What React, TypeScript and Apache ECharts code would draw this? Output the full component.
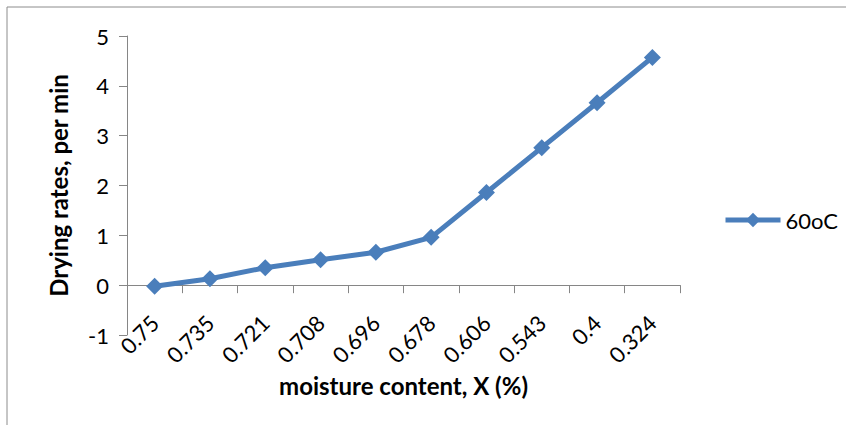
import React, { useEffect, useRef } from "react";
import * as echarts from "echarts";

const categories = ["0.75", "0.735", "0.721", "0.708", "0.696", "0.678", "0.606", "0.543", "0.4", "0.324"];
const dryingRates = [-0.02, 0.13, 0.35, 0.51, 0.66, 0.96, 1.86, 2.76, 3.66, 4.57];
const seriesName = "60oC";
const yTicks = { min: -1, max: 5, interval: 1 };

const FONT = "Lato, 'Open Sans', sans-serif";
const AXIS_COLOR = "#868686";
const LINE_COLOR = "#4A7EBB";

export default function App() {
  const ref = useRef<HTMLDivElement>(null);
  useEffect(() => {
    if (!ref.current) return;
    const chart = echarts.init(ref.current, null, { renderer: "svg" });
    chart.setOption({
      animation: false,
      backgroundColor: "#ffffff",
      grid: { left: 127, right: 166, top: 36, bottom: 90, containLabel: false, outerBoundsMode: "none" },
      graphic: [
        {
          type: "rect",
          shape: { x: 7, y: 7, width: 900, height: 500 },
          style: { fill: "none", stroke: "#8c8c8c", lineWidth: 1 },
          silent: true,
        },
      ],
      legend: {
        data: [seriesName],
        left: 718,
        top: 204,
        itemWidth: 55,
        itemHeight: 18,
        itemGap: 0,
        lineStyle: { width: 5, color: LINE_COLOR },
        itemStyle: { color: LINE_COLOR },
        textStyle: { fontFamily: FONT, fontSize: 22, color: "#000" },
      },
      xAxis: {
        type: "category",
        data: categories,
        boundaryGap: true,
        axisLine: { onZero: true, lineStyle: { color: AXIS_COLOR, width: 1 } },
        axisTick: { show: true, length: 8, lineStyle: { color: AXIS_COLOR } },
        axisLabel: {
          interval: 0,
          rotate: 45,
          margin: -16,
          fontFamily: FONT,
          fontSize: 22,
          color: "#000",
        },
        splitLine: { show: false },
        name: "moisture content, X (%)",
        nameLocation: "middle",
        nameGap: 35,
        nameTextStyle: { fontFamily: FONT, fontSize: 24, fontWeight: "bold", color: "#000" },
      },
      yAxis: {
        type: "value",
        min: yTicks.min,
        max: yTicks.max,
        interval: yTicks.interval,
        axisLine: { show: true, lineStyle: { color: AXIS_COLOR, width: 1 } },
        axisTick: { show: true, length: 8, lineStyle: { color: AXIS_COLOR } },
        axisLabel: { margin: 18, fontFamily: FONT, fontSize: 22, color: "#000" },
        splitLine: { show: false },
        name: "Drying rates, per min",
        nameLocation: "middle",
        nameGap: 57,
        nameTextStyle: { fontFamily: FONT, fontSize: 24, fontWeight: "bold", color: "#000" },
      },
      series: [
        {
          name: seriesName,
          type: "line",
          data: dryingRates,
          symbol: "diamond",
          symbolSize: 17,
          lineStyle: { color: LINE_COLOR, width: 5 },
          itemStyle: { color: LINE_COLOR },
        },
      ],
    });
    return () => chart.dispose();
  }, []);
  return <div ref={ref} style={{ width: 846, height: 425, position: "absolute", left: 0, top: 0 }} />;
}
